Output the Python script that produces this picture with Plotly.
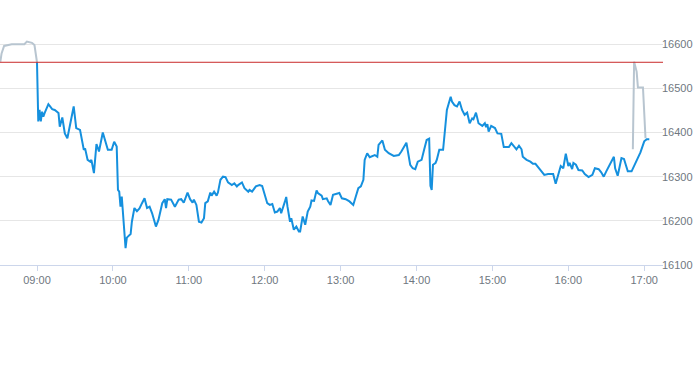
import plotly.graph_objects as go

DAY = "2024-01-02 "

pre_times = ["08:31", "08:32", "08:34", "08:40", "08:50", "08:52", "08:56", "08:58", "09:00"]
pre_values = [16560, 16579, 16596, 16600, 16600, 16606, 16603, 16598, 16559]

post_times = ["16:51", "16:52", "16:54", "16:55", "16:59", "17:01"]
post_values = [16362, 16560, 16538, 16502, 16502, 16387]

main_times = [
    "09:00", "09:01", "09:02", "09:03", "09:04", "09:05", "09:06", "09:09", "09:12", "09:14",
    "09:17", "09:18", "09:20", "09:22", "09:24", "09:26", "09:29", "09:31", "09:34", "09:37",
    "09:38", "09:40", "09:42", "09:43", "09:45", "09:47", "09:49", "09:52", "09:56", "09:59",
    "10:01", "10:03", "10:04", "10:05", "10:06", "10:07", "10:10", "10:11", "10:14", "10:15",
    "10:17", "10:19", "10:21", "10:23", "10:25", "10:27", "10:29", "10:31", "10:33", "10:34",
    "10:36", "10:39", "10:41", "10:42", "10:43", "10:46", "10:49", "10:52", "10:54", "10:56",
    "10:59", "11:01", "11:03", "11:04", "11:06", "11:08", "11:10", "11:12", "11:13", "11:15",
    "11:17", "11:18", "11:20", "11:22", "11:23", "11:25", "11:27", "11:29", "11:31", "11:34",
    "11:36", "11:38", "11:39", "11:42", "11:44", "11:47", "11:48", "11:50", "11:53", "11:56",
    "11:58", "12:00", "12:02", "12:04", "12:06", "12:08", "12:10", "12:12", "12:13", "12:16",
    "12:17", "12:18", "12:20", "12:21", "12:23", "12:25", "12:27", "12:28", "12:30", "12:32",
    "12:34", "12:36", "12:37", "12:39", "12:41", "12:42", "12:45", "12:46", "12:49", "12:50",
    "12:52", "12:54", "12:57", "12:59", "13:01", "13:04", "13:07", "13:10", "13:12", "13:14",
    "13:16", "13:18", "13:19", "13:21", "13:23", "13:27", "13:29", "13:30", "13:33", "13:35",
    "13:38", "13:42", "13:46", "13:48", "13:52", "13:55", "13:57", "13:59", "14:01", "14:04",
    "14:06", "14:08", "14:10", "14:11", "14:12", "14:13", "14:15", "14:16", "14:18", "14:21",
    "14:23", "14:24", "14:27", "14:28", "14:30", "14:32", "14:34", "14:36", "14:38", "14:40",
    "14:42", "14:44", "14:45", "14:47", "14:49", "14:52", "14:54", "14:55", "14:56", "14:57",
    "14:59", "15:02", "15:04", "15:07", "15:09", "15:13", "15:15", "15:17", "15:19", "15:21",
    "15:23", "15:24", "15:27", "15:30", "15:32", "15:34", "15:36", "15:38", "15:41", "15:44",
    "15:48", "15:50", "15:51", "15:54", "15:56", "15:58", "16:00", "16:01", "16:03", "16:04",
    "16:06", "16:08", "16:11", "16:13", "16:16", "16:19", "16:21", "16:24", "16:26", "16:28",
    "16:30", "16:33", "16:36", "16:37", "16:39", "16:40", "16:42", "16:44", "16:46", "16:47",
    "16:50", "16:53", "16:57", "17:00", "17:02", "17:04",
]
main_values = [
    16559, 16425, 16451, 16425, 16447, 16436, 16444, 16464, 16453, 16451,
    16444, 16413, 16434, 16398, 16387, 16413, 16459, 16410, 16406, 16361,
    16364, 16338, 16334, 16338, 16308, 16374, 16357, 16400, 16361, 16361,
    16379, 16368, 16270, 16266, 16232, 16255, 16138, 16162, 16170, 16198,
    16229, 16222, 16228, 16240, 16251, 16229, 16232, 16217, 16198, 16187,
    16202, 16240, 16249, 16229, 16249, 16248, 16232, 16248, 16249, 16241,
    16264, 16249, 16241, 16248, 16236, 16198, 16196, 16206, 16240, 16244,
    16264, 16257, 16266, 16257, 16264, 16293, 16300, 16299, 16287, 16281,
    16285, 16278, 16281, 16287, 16274, 16266, 16270, 16266, 16278, 16281,
    16279, 16259, 16240, 16236, 16238, 16219, 16221, 16229, 16217, 16244,
    16254, 16232, 16198, 16206, 16180, 16187, 16176, 16176, 16210, 16191,
    16221, 16232, 16246, 16245, 16269, 16263, 16257, 16249, 16251, 16245,
    16236, 16259, 16261, 16263, 16251, 16249, 16244, 16236, 16255, 16274,
    16278, 16293, 16338, 16353, 16344, 16349, 16345, 16372, 16382, 16361,
    16353, 16347, 16349, 16357, 16377, 16327, 16319, 16317, 16334, 16338,
    16361, 16383, 16386, 16279, 16270, 16327, 16331, 16338, 16361, 16361,
    16421, 16451, 16481, 16470, 16462, 16459, 16470, 16451, 16440, 16445,
    16421, 16432, 16430, 16445, 16421, 16415, 16421, 16412, 16419, 16402,
    16415, 16410, 16398, 16397, 16367, 16367, 16376, 16370, 16362, 16370,
    16362, 16345, 16338, 16334, 16329, 16329, 16321, 16315, 16304, 16306,
    16306, 16284, 16294, 16324, 16319, 16352, 16324, 16331, 16317, 16331,
    16327, 16315, 16314, 16306, 16299, 16304, 16319, 16317, 16310, 16300,
    16312, 16327, 16345, 16319, 16302, 16315, 16342, 16340, 16323, 16312,
    16312, 16331, 16355, 16380, 16385, 16385,
]

prev_close = 16559

hour_ticks = ["09:00", "10:00", "11:00", "12:00", "13:00", "14:00", "15:00", "16:00", "17:00"]
price_ticks = [16100, 16200, 16300, 16400, 16500, 16600]

x_start = "08:30:45"
x_end = "17:14:50"
y_range = [16100, 16700]


def d(ts):
    return [DAY + t for t in ts]


GRAY = "#b8c5d0"
BLUE = "#1590de"
LABEL = "#6f7780"
GRID = "#e6e6e6"

fig = go.Figure()
fig.add_trace(go.Scatter(x=d(pre_times), y=pre_values, mode="lines",
                         line=dict(color=GRAY, width=2), hoverinfo="skip"))
fig.add_trace(go.Scatter(x=d(post_times), y=post_values, mode="lines",
                         line=dict(color=GRAY, width=2), hoverinfo="skip"))
fig.add_trace(go.Scatter(x=d(main_times), y=main_values, mode="lines",
                         line=dict(color=BLUE, width=2)))

fig.add_shape(type="line", xref="paper", x0=0, x1=1, yref="y", y0=prev_close, y1=prev_close,
              line=dict(color="#c92a2a", width=1))

fig.update_layout(
    width=693, height=365,
    margin=dict(l=0, r=30, t=0, b=100),
    paper_bgcolor="white", plot_bgcolor="white",
    showlegend=False,
    font=dict(family="Liberation Sans, Arial, sans-serif", size=11, color=LABEL),
    xaxis=dict(
        type="date",
        range=[DAY + x_start, DAY + x_end],
        tickvals=d(hour_ticks), ticktext=hour_ticks,
        showgrid=False, zeroline=False,
        showline=True, linecolor="#ccd6eb", linewidth=1,
        ticks="outside", ticklen=5, tickcolor="#ccd6eb",
        tickfont=dict(size=11, color=LABEL),
        automargin=False,
    ),
    yaxis=dict(
        side="right",
        range=y_range,
        tickvals=price_ticks,
        ticktext=[str(v) for v in price_ticks],
        showgrid=True, gridcolor=GRID, gridwidth=1,
        zeroline=False, showline=False,
        ticks="", ticklabelstandoff=-2,
        tickfont=dict(size=11, color=LABEL),
        automargin=False,
    ),
)

fig.write_html("out.html")
